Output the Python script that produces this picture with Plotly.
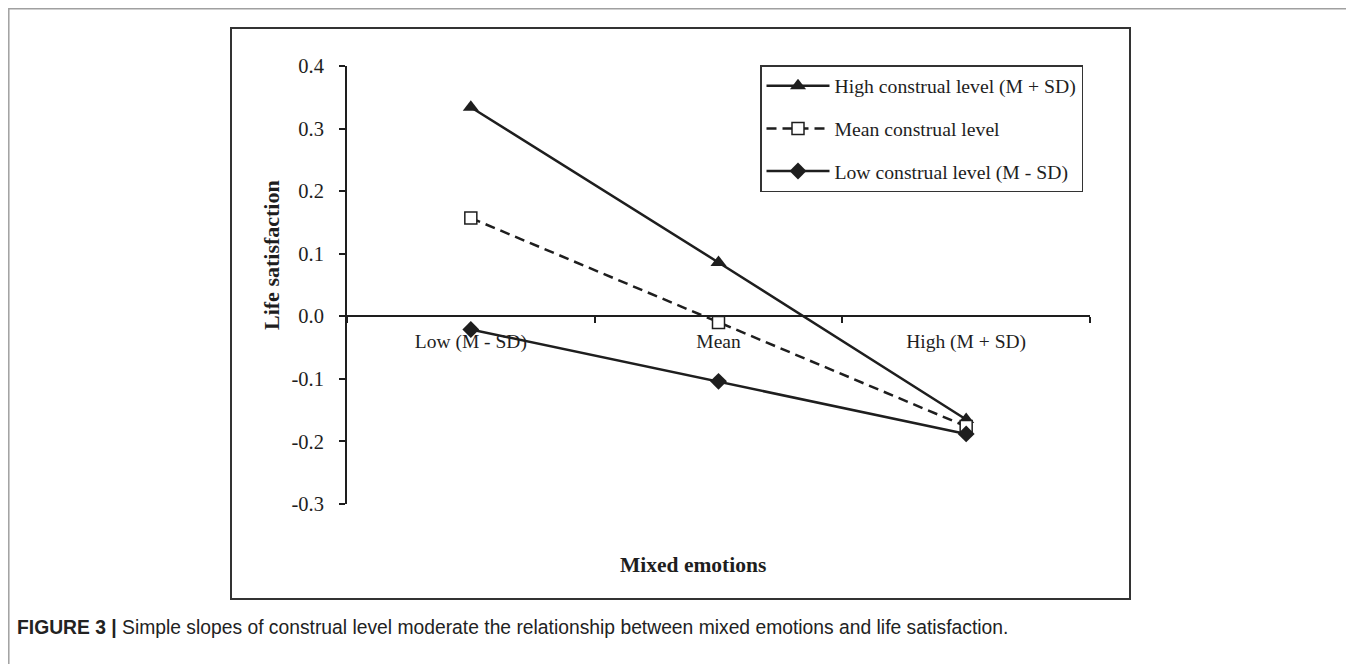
import plotly.graph_objects as go

# ---- data ----
categories = ["Low (M - SD)", "Mean", "High (M + SD)"]
series_names = ["High construal level (M + SD)", "Mean construal level", "Low construal level (M - SD)"]
high_construal = [0.334, 0.086, -0.165]
mean_construal = [0.157, -0.010, -0.176]
low_construal = [-0.021, -0.104, -0.188]
y_ticks = [0.4, 0.3, 0.2, 0.1, 0.0, -0.1, -0.2, -0.3]
y_tick_labels = ["0.4", "0.3", "0.2", "0.1", "0.0", "-0.1", "-0.2", "-0.3"]
y_title = "Life satisfaction"
x_title = "Mixed emotions"
caption_bold = "FIGURE 3 |"
caption_text = "Simple slopes of construal level moderate the relationship between mixed emotions and life satisfaction."

# ---- layout geometry (page pixels; the page body adds an 8px offset) ----
W, H = 1354, 664
OFF = 8
ML, MR, MT, MB = 347 - OFF, W - (1090 - OFF), 66 - OFF, H - (504 - OFF)
PW, PH = W - ML - MR, H - MT - MB
YMIN, YMAX = -0.3, 0.4


def px(x):
    return (x - OFF - ML) / PW


def py(y):
    return (H - MB - (y - OFF)) / PH


INK = "#1e1e1e"
SERIF = "Liberation Serif, Times New Roman, serif"
SANS = "Liberation Sans, Arial, sans-serif"

fig = go.Figure()
fig.add_trace(go.Scatter(
    x=categories, y=high_construal, name=series_names[0], mode="lines+markers",
    line=dict(color=INK, width=2.5),
    marker=dict(symbol="triangle-up", size=14, color=INK),
    legendgroup="a"))
fig.add_trace(go.Scatter(
    x=categories, y=mean_construal, name=series_names[1], mode="lines+markers",
    line=dict(color=INK, width=2.5, dash="10px,6px"),
    marker=dict(symbol="square", size=12, color="white", line=dict(color=INK, width=1.5)),
    legendgroup="b"))
fig.add_trace(go.Scatter(
    x=categories, y=low_construal, name=series_names[2], mode="lines+markers",
    line=dict(color=INK, width=2.5),
    marker=dict(symbol="diamond", size=13, color=INK),
    legendgroup="c"))

fig.update_layout(
    width=W, height=H, autosize=False,
    margin=dict(l=ML, r=MR, t=MT, b=MB, pad=0),
    paper_bgcolor="white", plot_bgcolor="white",
    font=dict(family=SERIF, size=19.5, color=INK),
    showlegend=True,
    legend=dict(
        x=px(760), y=py(65), xanchor="left", yanchor="top",
        bgcolor="white", bordercolor="#333", borderwidth=1.5,
        font=dict(family=SERIF, size=19.7, color=INK),
        tracegroupgap=14, itemwidth=63,
    ),
    xaxis=dict(
        type="category", range=[-0.5, 2.5],
        anchor="free", position=(0 - YMIN) / (YMAX - YMIN),
        showline=True, linecolor=INK, linewidth=2,
        ticks="outside", tickson="boundaries", ticklen=6, tickwidth=2, tickcolor=INK,
        showgrid=False, zeroline=False, ticklabelstandoff=7,
        tickfont=dict(family=SERIF, size=19.5, color=INK),
    ),
    yaxis=dict(
        range=[YMIN, YMAX], tickvals=y_ticks, ticktext=y_tick_labels,
        showline=True, linecolor=INK, linewidth=2,
        ticks="outside", ticklen=6, tickwidth=2, tickcolor=INK,
        showgrid=False, zeroline=False, ticklabelstandoff=11,
        tickfont=dict(family=SERIF, size=20.5, color=INK),
    ),
    shapes=[
        dict(type="rect", xref="paper", yref="paper",
             x0=px(8.8), x1=px(1352.5), y0=py(690), y1=py(8.8),
             line=dict(color="#a0a0a0", width=1.5), layer="below"),
        dict(type="rect", xref="paper", yref="paper",
             x0=px(231), x1=px(1130), y0=py(599), y1=py(28),
             line=dict(color="#333", width=2), layer="below"),
    ],
    annotations=[
        dict(text=f"<b>{y_title}</b>", xref="paper", yref="paper",
             x=px(272), y=py(255), textangle=-90, showarrow=False,
             xanchor="center", yanchor="middle",
             font=dict(family=SERIF, size=22, color=INK)),
        dict(text=f"<b>{x_title}</b>", xref="paper", yref="paper",
             x=px(693), y=py(565), showarrow=False,
             xanchor="center", yanchor="middle",
             font=dict(family=SERIF, size=21.5, color=INK)),
        dict(text=f"<b>{caption_bold}</b> {caption_text}", xref="paper", yref="paper",
             x=px(15), y=py(627), showarrow=False,
             xanchor="left", yanchor="middle",
             font=dict(family=SANS, size=19.3, color="#222")),
    ],
)

fig.write_html("out.html")
